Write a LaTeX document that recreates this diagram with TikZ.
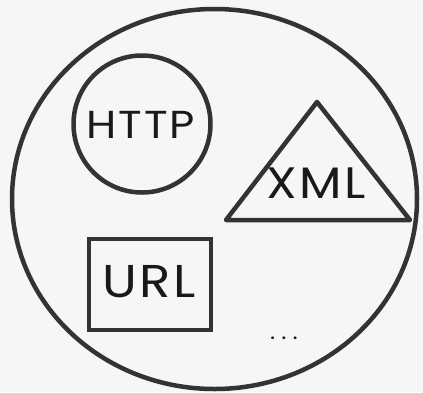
\documentclass[tikz,border=0pt]{standalone}
\usepackage{fontspec}
\setmainfont{Poppins}[FakeStretch=1.12,LetterSpace=5]
\usetikzlibrary{shapes.geometric}
\definecolor{bg}{HTML}{F5F6F8}
\definecolor{ink}{HTML}{333333}
\tikzset{bound/.style={draw=ink,line width=4.5pt,ellipse,inner sep=0pt}}
\tikzset{ring/.style={draw=ink,line width=4.5pt,circle,inner sep=0pt}}
\tikzset{box/.style={draw=ink,line width=4.5pt,rectangle,inner sep=0pt}}
\tikzset{lbl/.style={text=black!90,inner sep=0pt}}

\begin{document}
\begin{tikzpicture}[x=1pt,y=-1pt]
    \fill[bg] (0,0) rectangle (423,392);
    \useasboundingbox (0,0) rectangle (423,392);
    \node[bound,minimum width=405pt,minimum height=380pt] (web) at (214.5,199) {};
    \node[ring,minimum size=137pt] (http) at (142,124) {};
    \node[lbl,font=\fontsize{39}{42}\selectfont] (httptxt) at (141,124.5) {HTTP};
    \coordinate (xa) at (317,102);
    \coordinate (xb) at (410,220);
    \coordinate (xc) at (226,220);
    \draw[ink,line width=4.5pt,line join=round] (xa) -- (xb) -- (xc) -- cycle;
    \node[lbl,font=\fontsize{44}{48}\selectfont] (xml) at (316,183) {XML};
    \node[box,minimum width=122pt,minimum height=91pt] (url) at (150,284.5) {};
    \node[lbl,font=\fontsize{46}{50}\selectfont] (urltxt) at (149,281.5) {URL};
    \node[lbl,font=\fontsize{22}{24}\selectfont] (more) at (284,338) {.\hspace{6pt}.\hspace{6pt}.};
  \end{tikzpicture}
\end{document}
